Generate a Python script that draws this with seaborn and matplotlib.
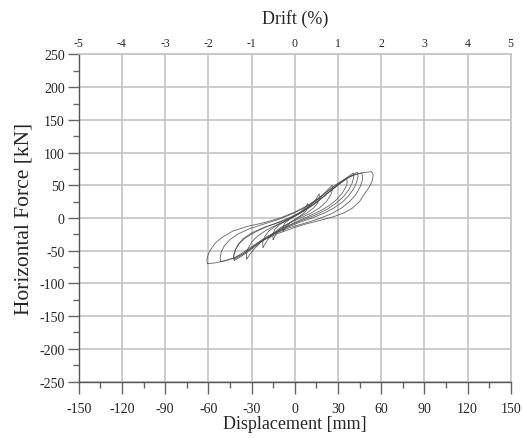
import numpy as np
import pandas as pd
import matplotlib
matplotlib.use("Agg")
import matplotlib.pyplot as plt
import seaborn as sns

# ---- data (displacement mm, force kN) ----
# each cycle: upper branch (neg tip -> pos tip) then lower branch back
cycle_a_disp = [-8, -8.2, -7, -4, 0, 4, 7, 9, 9.2, 8, 5, 1, -3, -6, -8]
cycle_a_force = [-20, -14, -8, -3, 3, 9, 15, 22, 17, 11, 5, -1, -7, -13, -20]

cycle_b_disp = [-15, -15.2, -14, -11, -6, 0, 6, 11, 14.5, 17, 17.2, 16, 13, 8, 2, -4, -9, -12.5, -15]
cycle_b_force = [-33, -26, -18, -11, -4, 3, 11, 20, 28, 37, 31, 23, 15, 7, 0, -8, -15, -23, -33]

cycle_c_disp = [-22, -22.3, -21, -18, -13, -7, 0, 7, 13, 18, 22, 26,
                26.3, 25, 22, 17, 11, 4, -3, -10, -15, -19, -22]
cycle_c_force = [-45, -38, -29, -20, -12, -5, 3, 13, 23, 32, 41, 50,
                 44, 35, 25, 15, 7, 0, -7, -15, -24, -34, -45]

cycle_d_disp = [-33.3, -33.6, -32.5, -30, -26, -20, -13, -5, 3, 11, 18, 24, 29, 33, 36,
                36.5, 35.5, 33, 29, 24, 17, 9, 1, -8, -16, -23, -28, -31, -33.3]
cycle_d_force = [-62.7, -56, -47, -37, -28, -19, -11, -3, 6, 17, 29, 40, 49, 55.5, 60,
                 55, 47, 38, 28, 19, 10, 2, -6, -15, -25, -36, -47, -55, -62.7]

cycle_e_disp = [-42, -42.3, -41, -38.5, -34, -27, -19, -10, -1, 8, 16, 23, 29, 34, 38, 40.7,
                41, 40, 37.5, 34, 29, 23, 16, 8, -1, -10, -19, -26, -32, -37, -42]
cycle_e_force = [-63, -57, -48, -39, -30, -21, -13, -6, 2, 13, 25, 38, 49, 58, 64.5, 68.8,
                 63, 54, 43, 33, 23, 14, 6, -1, -9, -18, -28, -39, -49, -57, -63]

cycle_f_disp = [-42, -42.5, -41.5, -39.5, -36, -30, -22, -13, -4, 5, 13, 20, 27, 33, 38, 41.5, 43.5,
                44, 43, 41, 37.5, 33, 27, 20, 12, 3, -6, -15, -23, -29, -34, -38, -42]
cycle_f_force = [-65, -59, -50, -41, -32, -23, -15, -8, 0, 10, 21, 33, 45, 55, 63, 67.5, 69.9,
                 64, 55, 45, 34, 24, 15, 7, 0, -7, -15, -25, -36, -46, -54, -60, -65]

cycle_g_disp = [-51.4, -51.8, -51, -49, -45, -39, -31, -21, -11, -1, 8, 16, 23, 29, 35, 40, 44, 46.5,
                47.2, 47, 45.5, 42.5, 38.5, 33, 26, 17, 7, -4, -14, -23, -30, -36, -41, -46.5, -51.4]
cycle_g_force = [-67, -61, -52, -43, -33, -24, -16, -9, -2, 7, 17, 29, 41, 51, 59, 64.5, 67.5, 68.8,
                 63, 58, 48, 36, 26, 16, 7, -1, -8, -15, -24, -34, -44, -53, -60, -64.5, -67]

cycle_h_disp = [-60.7, -61, -60, -58, -55, -50, -43, -33, -21, -10, 0, 9, 17, 24, 30, 36, 42, 48, 53.5,
                54.5, 54, 52, 48.5, 45, 40, 34, 27, 18, 8, -2, -12, -22, -30, -36, -42, -49, -55, -60.7]
cycle_h_force = [-70, -64, -55, -47, -38, -29, -20, -13, -7, 0, 9, 19, 31, 43, 53, 61, 66.5, 69.5, 70.8,
                 66, 58, 48, 37, 25, 15, 7.5, 2, -3.5, -9, -16, -24, -34, -46, -55, -61, -65.5, -68.5, -70]

cycles = {
    "a": (cycle_a_disp, cycle_a_force),
    "b": (cycle_b_disp, cycle_b_force),
    "c": (cycle_c_disp, cycle_c_force),
    "d": (cycle_d_disp, cycle_d_force),
    "e": (cycle_e_disp, cycle_e_force),
    "f": (cycle_f_disp, cycle_f_force),
    "g": (cycle_g_disp, cycle_g_force),
    "h": (cycle_h_disp, cycle_h_force),
}

disp_ticks = [-150, -120, -90, -60, -30, 0, 30, 60, 90, 120, 150]
force_ticks = [-250, -200, -150, -100, -50, 0, 50, 100, 150, 200, 250]
drift_ticks = [-5, -4, -3, -2, -1, 0, 1, 2, 3, 4, 5]
story_height_mm = 3000.0

rows = []
for name, (xs, ys) in cycles.items():
    for i, (x, y) in enumerate(zip(xs, ys)):
        rows.append({"cycle": name, "order": i, "disp": x, "force": y})
df = pd.DataFrame(rows)

# ---- figure ----
sns.set_style("white")
plt.rcParams["font.family"] = ["Liberation Serif", "DejaVu Serif"]

fig = plt.figure(figsize=(5.22, 4.39), dpi=100)
ax = fig.add_axes([0.1508, 0.1287, 0.8276, 0.745])

ax.set_xlim(-150, 150)
ax.set_ylim(-250, 250)
ax.set_xticks(disp_ticks)
ax.set_yticks(force_ticks)
ax.set_xticks(np.arange(-135, 150, 30), minor=True)
ax.set_yticks(np.arange(-225, 250, 50), minor=True)
ax.set_xticklabels([str(t) for t in disp_ticks])
ax.set_yticklabels([str(t) for t in force_ticks])

ax.grid(True, which="major", color="#c4c4c4", linewidth=1.2, zorder=0)
ax.set_axisbelow(True)

sns.lineplot(data=df, x="disp", y="force", units="cycle", estimator=None,
             sort=False, color="#4a4a4a", linewidth=0.6, alpha=0.85, ax=ax,
             legend=False)

for s in ["top", "right"]:
    ax.spines[s].set_color("#c4c4c4")
    ax.spines[s].set_linewidth(1.2)
for s in ["left", "bottom"]:
    ax.spines[s].set_color("#555555")
    ax.spines[s].set_linewidth(1.0)

ax.tick_params(axis="x", which="major", direction="out", length=8.5, width=1.0,
               color="#666666", labelsize=10, pad=6, bottom=True, top=False)
ax.tick_params(axis="x", which="minor", direction="out", length=4, width=1.0,
               color="#666666", bottom=True, top=False)
ax.tick_params(axis="y", which="major", direction="out", length=8, width=1.0,
               color="#666666", labelsize=10, pad=2, left=True, right=False)
ax.tick_params(axis="y", which="minor", direction="out", length=4, width=1.0,
               color="#666666", left=True, right=False)

ax.set_xlabel("Displacement [mm]", fontsize=13, labelpad=0)
ax.set_ylabel("Horizontal Force [kN]", fontsize=15.5, labelpad=4.5)

sec = ax.secondary_xaxis("top", functions=(lambda x: x / (story_height_mm / 100.0),
                                           lambda d: d * (story_height_mm / 100.0)))
sec.set_xticks(drift_ticks)
sec.set_xticklabels([str(t) for t in drift_ticks])
sec.tick_params(axis="x", length=0, labelsize=8.5, pad=4)
sec.spines["top"].set_visible(False)
sec.set_xlabel("Drift (%)", fontsize=13, labelpad=10)

fig.savefig("out.png", dpi=100)
